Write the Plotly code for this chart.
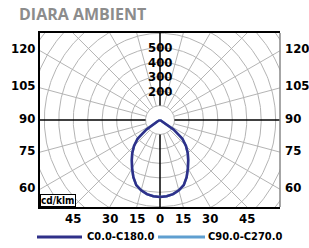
import numpy as np
import plotly.graph_objects as go

# ---- data (cd/klm vs gamma angle, degrees) ----
gamma = [0, 5, 10, 15, 20, 25, 30, 35, 40, 45, 50, 55, 60, 65, 70, 75, 80, 85, 90, 120, 150, 180]
c0_c180 = [533, 530, 521, 504, 480, 436, 386, 340, 299, 254, 202, 114, 21, 5, 0, 0, 0, 0, 0, 0, 0, 0]
c90_c270 = [533, 530, 521, 504, 480, 436, 386, 340, 299, 254, 202, 114, 21, 5, 0, 0, 0, 0, 0, 0, 0, 0]
ring_labels = [200, 300, 400, 500]
side_ticks = [120, 105, 90, 75, 60]
bottom_ticks = [45, 30, 15, 0, 15, 30, 45]
bottom_sides = [-1, -1, -1, 0, 1, 1, 1]
series_names = ["C0.0-C180.0", "C90.0-C270.0"]

XR = 830
YR = 602
FONT = "Liberation Sans Narrow, Arial Narrow, DejaVu Sans Condensed, sans-serif"
NAVY = "#2f3089"
LBLUE = "#5f9fd0"
GRID = "#b4b4b4"

def polar_xy(angles, values):
    # full curve: mirrored on both sides of the vertical axis, 0 deg pointing down
    a = np.radians(np.array(angles, float))
    v = np.array(values, float)
    a_full = np.concatenate([-a[::-1], a[1:]])
    v_full = np.concatenate([v[::-1], v[1:]])
    return v_full * np.sin(a_full), -v_full * np.cos(a_full)

fig = go.Figure()

# grid circles
t = np.linspace(0, 2 * np.pi, 361)
gx, gy = [], []
for r in range(100, 1200, 100):
    gx += list(r * np.cos(t)) + [None]
    gy += list(r * np.sin(t)) + [None]
fig.add_trace(go.Scatter(x=gx, y=gy, mode="lines", line=dict(color=GRID, width=1),
                         hoverinfo="skip", showlegend=False))
# radial lines
rx, ry, bx, by = [], [], [], []
for ang in range(0, 360, 15):
    a = np.radians(ang)
    seg_x = [100 * np.sin(a), 1300 * np.sin(a), None]
    seg_y = [100 * np.cos(a), 1300 * np.cos(a), None]
    if ang % 90 == 0:
        bx += seg_x; by += seg_y
    else:
        rx += seg_x; ry += seg_y
fig.add_trace(go.Scatter(x=rx, y=ry, mode="lines", line=dict(color=GRID, width=1),
                         hoverinfo="skip", showlegend=False))
fig.add_trace(go.Scatter(x=bx, y=by, mode="lines", line=dict(color="black", width=1.5),
                         hoverinfo="skip", showlegend=False))

# curves
x2, y2 = polar_xy(gamma, c90_c270)
fig.add_trace(go.Scatter(x=x2, y=y2, mode="lines", line=dict(color=LBLUE, width=2.5),
                         name=series_names[1], showlegend=False))
x1, y1 = polar_xy(gamma, c0_c180)
fig.add_trace(go.Scatter(x=x1, y=y1, mode="lines", line=dict(color=NAVY, width=2.5),
                         name=series_names[0], showlegend=False))

ann = []
for v in ring_labels:
    ann.append(dict(x=0, y=v, xref="x", yref="y", text=f"<b>{v}</b>", showarrow=False,
                    font=dict(family=FONT, size=13, color="black")))
for tk in side_ticks:
    yv = XR * np.tan(np.radians(tk - 90))
    ann.append(dict(x=0, y=yv, xref="paper", yref="y", text=f"<b>{tk}</b>", showarrow=False,
                    xanchor="right", xshift=-3, yshift=2, font=dict(family=FONT, size=13, color="black")))
    ann.append(dict(x=1, y=yv, xref="paper", yref="y", text=f"<b>{tk}</b>", showarrow=False,
                    xanchor="left", xshift=3, yshift=2, font=dict(family=FONT, size=13, color="black")))
for tk, s in zip(bottom_ticks, bottom_sides):
    xv = s * YR * np.tan(np.radians(tk))
    ann.append(dict(x=xv, y=0, xref="x", yref="paper", text=f"<b>{tk}</b>", showarrow=False,
                    yanchor="top", yshift=-2, font=dict(family=FONT, size=13, color="black")))
ann.append(dict(x=0, y=0, xref="paper", yref="paper", text="<b>cd/klm</b>", showarrow=False,
                xanchor="left", yanchor="bottom", bgcolor="white", bordercolor="black",
                borderwidth=1, borderpad=0, font=dict(family=FONT, size=10, color="black")))
ann.append(dict(x=0, y=1, xref="paper", yref="paper", text="<b>DIARA AMBIENT</b>", showarrow=False,
                xanchor="left", yanchor="bottom", xshift=-23, yshift=6,
                font=dict(family="Open Sans", size=16, color="#8c8c8c")))

shapes = [
    dict(type="line", xref="paper", yref="paper", x0=1, x1=1, y0=0, y1=1, line=dict(color="#888", width=1.5)),
]

fig.update_layout(
    width=309, height=248, margin=dict(l=40, r=29, t=33, b=41),
    paper_bgcolor="white", plot_bgcolor="white",
    xaxis=dict(range=[-XR, XR], showgrid=False, zeroline=False, showticklabels=False,
               showline=True, linecolor="black", linewidth=1.5, mirror=True, fixedrange=True),
    yaxis=dict(range=[-YR, YR], showgrid=False, zeroline=False, showticklabels=False,
               showline=True, linecolor="black", linewidth=1.5, mirror=False, fixedrange=True),
    annotations=ann, shapes=shapes, showlegend=False,
)

# legend drawn below the plot in paper pixels
leg_y = -30 / 174
fig.add_shape(type="line", xref="paper", yref="paper", x0=-3 / 240, x1=42 / 240, y0=leg_y, y1=leg_y,
              line=dict(color=NAVY, width=3))
fig.add_shape(type="line", xref="paper", yref="paper", x0=118 / 240, x1=165 / 240, y0=leg_y, y1=leg_y,
              line=dict(color=LBLUE, width=3))
fig.add_annotation(x=45 / 240, y=leg_y, xref="paper", yref="paper", text=f"<b>{series_names[0]}</b>",
                   showarrow=False, xanchor="left", yanchor="middle", yshift=1,
                   font=dict(family=FONT, size=11, color="black"))
fig.add_annotation(x=166 / 240, y=leg_y, xref="paper", yref="paper", text=f"<b>{series_names[1]}</b>",
                   showarrow=False, xanchor="left", yanchor="middle", yshift=1,
                   font=dict(family=FONT, size=11, color="black"))

fig.write_html("out.html", config={"displayModeBar": False},
               post_script="document.body.style.margin='0px';")
